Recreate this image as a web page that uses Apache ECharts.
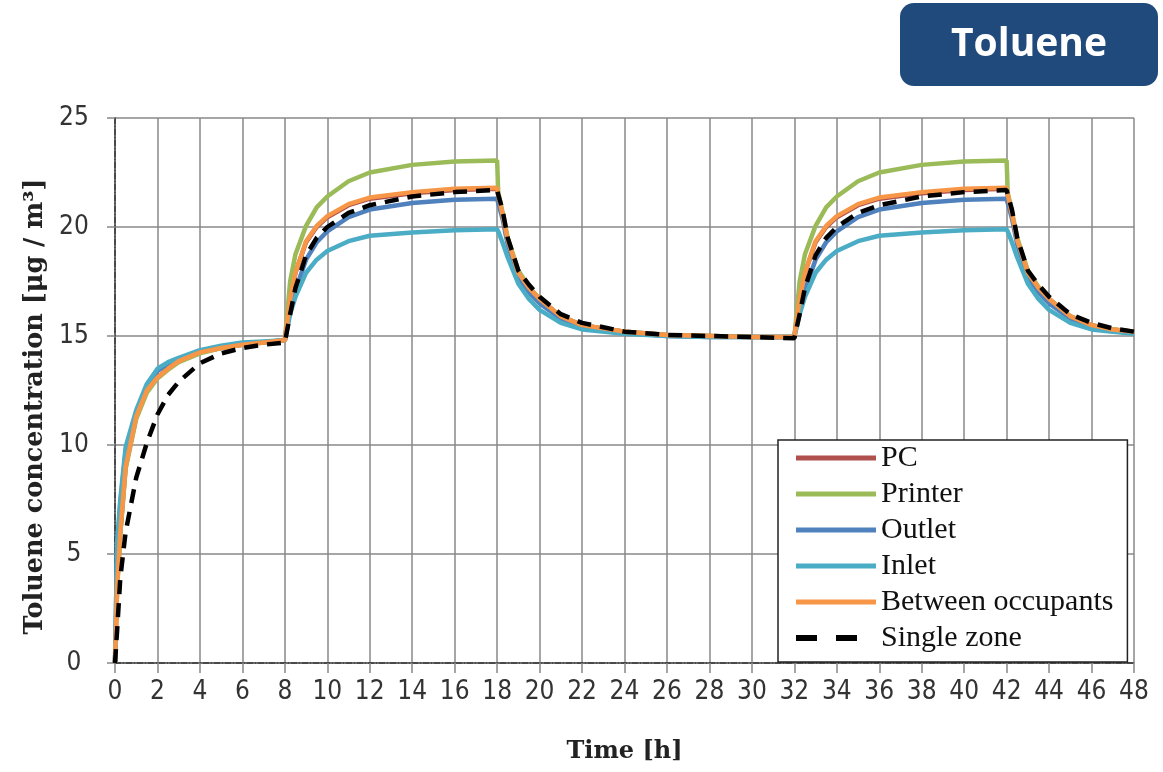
<!DOCTYPE html>
<html>
<head>
<meta charset="utf-8">
<title>Toluene</title>
<script src="https://cdn.jsdelivr.net/npm/echarts@6/dist/echarts.min.js"></script>
<style>
  html, body { margin: 0; padding: 0; background: #fff; }
  #chart { width: 1163px; height: 772px; }
</style>
</head>
<body>
<div id="chart"></div>
<script>
// sample times [h]
const time = [0, 0.1, 0.25, 0.5, 1, 1.5, 2, 2.5, 3, 4, 5, 6, 7, 8,
  8.25, 8.5, 9, 9.5, 10, 11, 12, 14, 16, 18,
  18.05, 18.25, 18.5, 19, 19.5, 20, 21, 22, 24, 26, 28, 30, 32,
  32.25, 32.5, 33, 33.5, 34, 35, 36, 38, 40, 42,
  42.05, 42.25, 42.5, 43, 43.5, 44, 45, 46, 47, 48]

const pc = [0, 3.5, 6.0, 9.0, 11.3, 12.5, 13.1, 13.5, 13.85, 14.25, 14.45, 14.6, 14.7, 14.8,
  16.7, 17.9, 19.3, 20.0, 20.45, 21.0, 21.3, 21.55, 21.7, 21.75,
  21.45, 20.6, 19.4, 17.9, 17.2, 16.7, 15.9, 15.5, 15.2, 15.05, 15.0, 14.95, 14.95,
  16.7, 17.9, 19.3, 20.0, 20.45, 21.0, 21.3, 21.55, 21.7, 21.75,
  21.45, 20.6, 19.4, 17.9, 17.2, 16.7, 15.9, 15.5, 15.3, 15.2]

const printer = [0, 3.4, 5.9, 8.9, 11.2, 12.4, 13.05, 13.45, 13.8, 14.2, 14.45, 14.6, 14.7, 14.8,
  17.5, 18.75, 20.05, 20.9, 21.4, 22.1, 22.5, 22.85, 23.0, 23.05,
  21.6, 20.7, 19.5, 18.0, 17.25, 16.7, 15.9, 15.5, 15.2, 15.05, 15.0, 14.95, 14.95,
  17.5, 18.75, 20.05, 20.9, 21.4, 22.1, 22.5, 22.85, 23.0, 23.05,
  21.6, 20.7, 19.5, 18.0, 17.25, 16.7, 15.9, 15.5, 15.3, 15.2]

const outlet = [0, 5.3, 7.3, 9.7, 11.5, 12.7, 13.4, 13.7, 13.95, 14.3, 14.5, 14.65, 14.72, 14.8,
  16.2, 17.1, 18.5, 19.3, 19.8, 20.45, 20.8, 21.1, 21.25, 21.3,
  21.1, 20.4, 19.2, 17.7, 17.0, 16.5, 15.8, 15.4, 15.15, 15.0, 14.95, 14.95, 14.95,
  16.2, 17.1, 18.5, 19.3, 19.8, 20.45, 20.8, 21.1, 21.25, 21.3,
  21.1, 20.4, 19.2, 17.7, 17.0, 16.5, 15.8, 15.4, 15.25, 15.15]

const inlet = [0, 5.5, 7.5, 9.9, 11.6, 12.8, 13.5, 13.8, 14.0, 14.35, 14.55, 14.7, 14.75, 14.8,
  16.0, 16.8, 17.9, 18.5, 18.9, 19.35, 19.6, 19.75, 19.85, 19.9,
  19.8, 19.3, 18.6, 17.4, 16.7, 16.2, 15.6, 15.3, 15.1, 15.0, 14.95, 14.95, 14.95,
  16.0, 16.8, 17.9, 18.5, 18.9, 19.35, 19.6, 19.75, 19.85, 19.9,
  19.8, 19.3, 18.6, 17.4, 16.7, 16.2, 15.6, 15.3, 15.2, 15.1]

const between = [0, 3.5, 6.0, 9.0, 11.3, 12.5, 13.1, 13.5, 13.85, 14.25, 14.45, 14.6, 14.7, 14.8,
  16.7, 17.9, 19.35, 20.05, 20.5, 21.05, 21.35, 21.6, 21.75, 21.8,
  21.5, 20.6, 19.4, 17.9, 17.2, 16.7, 15.9, 15.5, 15.2, 15.05, 15.0, 14.95, 14.95,
  16.7, 17.9, 19.35, 20.05, 20.5, 21.05, 21.35, 21.6, 21.75, 21.8,
  21.5, 20.6, 19.4, 17.9, 17.2, 16.7, 15.9, 15.5, 15.3, 15.2]

const single = [0, 1.5, 3.9, 6.0, 8.5, 10.1, 11.4, 12.3, 12.9, 13.75, 14.2, 14.45, 14.6, 14.7,
  16.0, 17.2, 18.7, 19.5, 20.0, 20.65, 21.0, 21.4, 21.6, 21.7,
  21.5, 20.8, 19.5, 18.0, 17.35, 16.8, 16.0, 15.6, 15.2, 15.05, 15.0, 14.95, 14.9,
  16.0, 17.2, 18.7, 19.5, 20.0, 20.65, 21.0, 21.4, 21.6, 21.7,
  21.5, 20.8, 19.5, 18.0, 17.35, 16.8, 16.0, 15.6, 15.35, 15.2]

const seriesNames = ['PC', 'Printer', 'Outlet', 'Inlet', 'Between occupants', 'Single zone']
const seriesColors = ['#B0504E', '#9BBB59', '#4F81BD', '#4BACC6', '#F79646', '#000000']
const seriesValues = [pc, printer, outlet, inlet, between, single]

function pairs(values) {
  return time.map((t, i) => [t, values[i]])
}

const chart = echarts.init(document.getElementById('chart'))

const tickFont = {
  fontFamily: '"Liberation Sans Narrow", "DejaVu Sans Condensed", sans-serif',
  fontSize: 26,
  color: '#333'
}

const option = {
  animation: false,
  grid: { left: 115, right: 29, top: 118, bottom: 109 },
  graphic: [
    {
      type: 'group',
      left: 900, top: 3,
      children: [
        {
          type: 'rect',
          shape: { x: 0, y: 0, width: 258, height: 83, r: 14 },
          style: { fill: '#214A7C' }
        },
        {
          type: 'text',
          x: 129, y: 42,
          style: {
            text: 'Toluene',
            align: 'center', verticalAlign: 'middle',
            fill: '#fff',
            font: 'bold 39px "Open Sans", "Noto Sans", sans-serif'
          }
        }
      ]
    }
  ],
  legend: {
    orient: 'vertical',
    left: 778, top: 440,
    padding: [3, 14, 9, 15],
    backgroundColor: '#fff',
    borderColor: '#222',
    borderWidth: 1.5,
    itemWidth: 80,
    itemHeight: 30,
    itemGap: 6,
    itemStyle: { opacity: 0 },
    lineStyle: { width: 5 },
    textStyle: {
      fontFamily: '"Liberation Serif", serif',
      fontSize: 30,
      lineHeight: 30,
      color: '#111'
    },
    data: seriesNames.map((name) => name === 'Single zone'
      ? { name: name, lineStyle: { width: 6, type: [21, 19] } }
      : { name: name })
  },
  xAxis: [
    {
      type: 'value', min: 0, max: 48, interval: 2,
      name: 'Time [h]', nameLocation: 'middle', nameGap: 77,
      nameTextStyle: { fontFamily: '"DejaVu Serif", serif', fontWeight: 'bold', fontSize: 24, color: '#222' },
      axisLine: { show: true, lineStyle: { color: '#888', width: 1.5 } },
      axisTick: { show: true, length: 10, lineStyle: { color: '#888', width: 1.5 } },
      axisLabel: Object.assign({ margin: 16 }, tickFont),
      splitLine: { show: true, lineStyle: { color: '#888', width: 1.5 } }
    },
    {
      type: 'value', min: 0, max: 48, position: 'top',
      axisLine: { show: true, lineStyle: { color: '#333', width: 1.5, type: [6, 2, 1, 2] } },
      axisTick: { show: false }, axisLabel: { show: false }, splitLine: { show: false }
    }
  ],
  yAxis: [
    {
      type: 'value', min: 0, max: 25, interval: 5,
      name: 'Toluene concentration [μg / m³]', nameLocation: 'middle', nameGap: 67,
      nameTextStyle: {
        fontFamily: '"DejaVu Serif", serif', fontWeight: 'bold', fontSize: 25.5, color: '#222',
        padding: [0, 32, 0, 0]
      },
      axisLine: { show: true, lineStyle: { color: '#888', width: 1.5 } },
      axisTick: { show: true, length: 8, lineStyle: { color: '#888', width: 1.5 } },
      axisLabel: Object.assign({ margin: 41, align: 'center' }, tickFont),
      splitLine: { show: true, lineStyle: { color: '#888', width: 1.5 } }
    },
    {
      type: 'value', min: 0, max: 25, position: 'right',
      axisLine: { show: true, lineStyle: { color: '#333', width: 1.5, type: [6, 2, 1, 2] } },
      axisTick: { show: false }, axisLabel: { show: false }, splitLine: { show: false }
    }
  ],
  series: seriesNames.map((name, i) => ({
    name: name,
    type: 'line',
    data: pairs(seriesValues[i]),
    symbol: 'none',
    smooth: false,
    color: seriesColors[i],
    lineStyle: name === 'Single zone'
      ? { color: '#000', width: 4.5, type: [14, 9] }
      : { color: seriesColors[i], width: 4.5 },
    z: 2 + i
  }))
}

chart.setOption(option)
</script>
</body>
</html>
